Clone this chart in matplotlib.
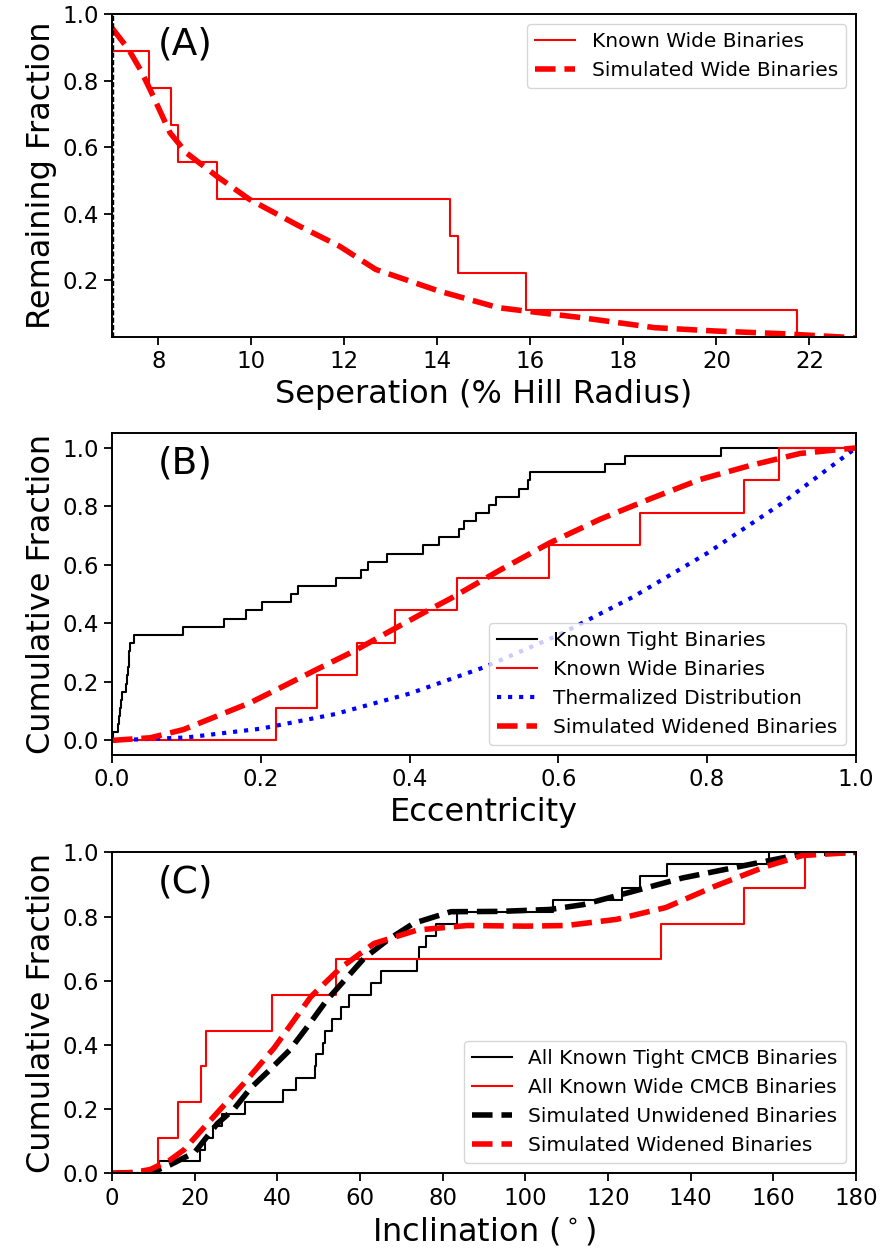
import numpy as np
import matplotlib
matplotlib.use("Agg")
import matplotlib.pyplot as plt

# ---------------- Data ----------------
# Panel A: separation (% Hill radius)
sep_known_x = [7.0, 7.8, 8.26, 8.43, 9.26, 14.28, 14.44, 15.91, 21.74]
sep_known_frac = [0.889, 0.778, 0.667, 0.556, 0.444, 0.333, 0.222, 0.111, 0.0]
sep_sim_x = [7.0, 7.36, 7.61, 7.82, 8.25, 8.6, 9.25, 9.96, 11.03, 11.89, 12.67,
             14.03, 15.31, 15.89, 17.1, 18.67, 19.96, 21.38, 22.8, 23.0]
sep_sim_frac = [0.958, 0.893, 0.833, 0.773, 0.643, 0.583, 0.513, 0.443, 0.363,
                0.303, 0.233, 0.168, 0.118, 0.108, 0.088, 0.058, 0.048, 0.04,
                0.029, 0.027]
sep_cut = 7.03

# Panel B: eccentricity
ecc_tight = [0.002, 0.0075, 0.009, 0.0105, 0.012, 0.0134, 0.019, 0.020, 0.0215,
             0.0225, 0.0235, 0.0246, 0.030, 0.095, 0.150, 0.180, 0.201, 0.240,
             0.250, 0.301, 0.335, 0.344, 0.369, 0.418, 0.439, 0.467, 0.473,
             0.489, 0.507, 0.516, 0.547, 0.559, 0.562, 0.663, 0.690, 0.818]
ecc_wide = [0.220, 0.2755, 0.330, 0.380, 0.464, 0.588, 0.710, 0.850, 0.897]
ecc_therm_x = [0.0, 0.1, 0.2, 0.3, 0.4, 0.5, 0.6, 0.7, 0.8, 0.9, 1.0]
ecc_therm_cdf = [0.0, 0.01, 0.04, 0.09, 0.16, 0.25, 0.36, 0.49, 0.64, 0.81, 1.0]
ecc_sim_x = [0.0, 0.0515, 0.096, 0.141, 0.186, 0.231, 0.2755, 0.325, 0.374,
             0.423, 0.455, 0.522, 0.589, 0.656, 0.7235, 0.7905, 0.858, 0.925, 1.0]
ecc_sim_cdf = [0.0, 0.009, 0.037, 0.083, 0.129, 0.186, 0.243, 0.305, 0.374,
               0.442, 0.485, 0.583, 0.676, 0.756, 0.826, 0.892, 0.94, 0.981, 1.0]

# Panel C: inclination (deg)
inc_tight = [11.4, 21.25, 22.6, 24.5, 26.6, 32.3, 41.4, 44.6, 49.1, 49.4,
             51.0, 51.6, 53.3, 55.3, 57.4, 62.6, 65.0, 73.8, 74.2, 76.0,
             78.4, 83.4, 106.7, 123.3, 127.8, 134.2, 159.0]
inc_wide = [11.15, 15.9, 21.65, 22.86, 38.8, 54.3, 132.75, 152.95, 167.7]
inc_unw_x = [0, 10, 14, 20, 25.5, 29.5, 33.5, 38, 43, 47.3, 52, 57, 61, 66.7,
             73, 82, 94, 106, 114, 126, 138, 150, 162, 167, 180]
inc_unw_cdf = [0, 0.005, 0.026, 0.065, 0.155, 0.2, 0.265, 0.32, 0.384, 0.457,
               0.54, 0.612, 0.67, 0.727, 0.779, 0.815, 0.816, 0.822, 0.837,
               0.878, 0.92, 0.951, 0.982, 0.995, 1.0]
inc_wid_x = [0, 5, 9.3, 14, 17.4, 23.8, 31.9, 39.2, 48.1, 55.3, 63.4, 73.9, 86,
             100, 110, 122, 134, 146, 158, 167, 180]
inc_wid_cdf = [0, 0.002, 0.012, 0.041, 0.073, 0.165, 0.28, 0.39, 0.55, 0.64,
               0.716, 0.758, 0.772, 0.77, 0.772, 0.791, 0.828, 0.895, 0.955,
               0.99, 1.0]

# ---------------- Style ----------------
plt.rcParams['font.family'] = ['DejaVu Sans']
TICK_FS = 16.5
LABEL_FS = 23
LEG_FS = 14.5
PANEL_FS = 27
LW_STEP = 1.5
LW_DASH = 4


def cdf_xy(vals, xmin, xmax):
    v = np.sort(np.asarray(vals, dtype=float))
    n = len(v)
    x = np.concatenate([[xmin], v, [xmax]])
    y = np.concatenate([[0.0], np.arange(1, n + 1) / n, [1.0]])
    return x, y


def style_ax(ax):
    for s in ax.spines.values():
        s.set_linewidth(1.4)
    ax.tick_params(axis='both', labelsize=TICK_FS, length=6, width=1.3)


fig = plt.figure(figsize=(8.81, 12.49), dpi=100)
L, R = 0.1271, 0.9716
axA = fig.add_axes([L, 0.7302, R - L, 0.9888 - 0.7302])
axB = fig.add_axes([L, 0.3955, R - L, 0.6531 - 0.3955])
axC = fig.add_axes([L, 0.0606, R - L, 0.3176 - 0.0606])

# ---- Panel A ----
axA.step(sep_known_x, sep_known_frac, where='post', color='red', lw=LW_STEP,
         label='Known Wide Binaries')
axA.plot(sep_sim_x, sep_sim_frac, color='red', ls='--', lw=LW_DASH,
         label='Simulated Wide Binaries')
axA.axvline(sep_cut, color='black', ls='--', lw=1.0)
axA.set_xlim(7, 23)
axA.set_ylim(0.03, 1.0)
axA.set_xticks([8, 10, 12, 14, 16, 18, 20, 22])
axA.set_yticks([0.2, 0.4, 0.6, 0.8, 1.0])
axA.set_xlabel('Seperation (% Hill Radius)', fontsize=LABEL_FS)
axA.set_ylabel('Remaining Fraction', fontsize=LABEL_FS)
axA.legend(loc='upper right', fontsize=LEG_FS)
axA.text(0.062, 0.905, '(A)', transform=axA.transAxes, fontsize=PANEL_FS,
         va='center', ha='left')
style_ax(axA)

# ---- Panel B ----
x, y = cdf_xy(ecc_tight, 0.0, 1.0)
axB.step(x, y, where='post', color='black', lw=LW_STEP,
         label='Known Tight Binaries')
x, y = cdf_xy(ecc_wide, 0.0, 1.0)
axB.step(x, y, where='post', color='red', lw=LW_STEP,
         label='Known Wide Binaries')
axB.plot(ecc_therm_x, ecc_therm_cdf, color='blue', ls=':', lw=3,
         label='Thermalized Distribution')
axB.plot(ecc_sim_x, ecc_sim_cdf, color='red', ls='--', lw=LW_DASH,
         label='Simulated Widened Binaries')
axB.set_xlim(0, 1)
axB.set_ylim(-0.05, 1.05)
axB.set_xticks([0.0, 0.2, 0.4, 0.6, 0.8, 1.0])
axB.set_yticks([0.0, 0.2, 0.4, 0.6, 0.8, 1.0])
axB.set_xlabel('Eccentricity', fontsize=LABEL_FS)
axB.set_ylabel('Cumulative Fraction', fontsize=LABEL_FS)
axB.legend(loc='lower right', fontsize=LEG_FS)
axB.text(0.062, 0.905, '(B)', transform=axB.transAxes, fontsize=PANEL_FS,
         va='center', ha='left')
style_ax(axB)

# ---- Panel C ----
x, y = cdf_xy(inc_tight, 0.0, 180.0)
axC.step(x, y, where='post', color='black', lw=LW_STEP,
         label='All Known Tight CMCB Binaries')
x, y = cdf_xy(inc_wide, 0.0, 180.0)
axC.step(x, y, where='post', color='red', lw=LW_STEP,
         label='All Known Wide CMCB Binaries')
axC.plot(inc_unw_x, inc_unw_cdf, color='black', ls='--', lw=LW_DASH,
         label='Simulated Unwidened Binaries')
axC.plot(inc_wid_x, inc_wid_cdf, color='red', ls='--', lw=LW_DASH,
         label='Simulated Widened Binaries')
axC.set_xlim(0, 180)
axC.set_ylim(0, 1)
axC.set_xticks(np.arange(0, 181, 20))
axC.set_yticks([0.0, 0.2, 0.4, 0.6, 0.8, 1.0])
axC.set_xlabel(r'Inclination ($^\circ$)', fontsize=LABEL_FS)
axC.set_ylabel('Cumulative Fraction', fontsize=LABEL_FS)
axC.legend(loc='lower right', fontsize=LEG_FS)
axC.text(0.062, 0.905, '(C)', transform=axC.transAxes, fontsize=PANEL_FS,
         va='center', ha='left')
style_ax(axC)

fig.savefig('out.png', dpi=100)
